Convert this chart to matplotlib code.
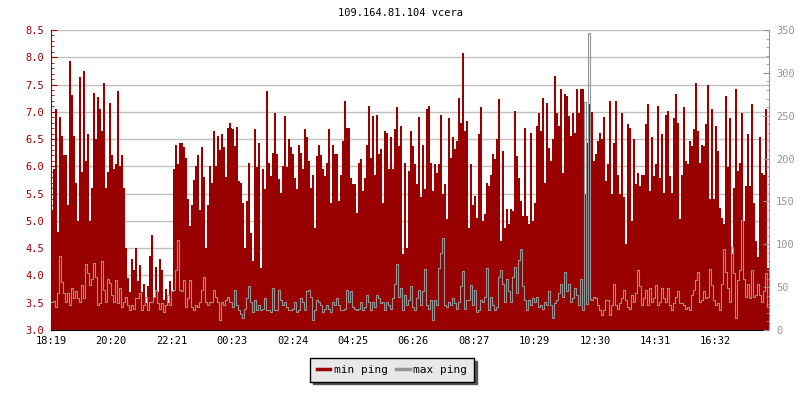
import numpy as np
import matplotlib.pyplot as plt
from matplotlib.ticker import MultipleLocator
from matplotlib.lines import Line2D

# min ping (ms, left axis), one value every 4 minutes starting 18:19
min_ping = [
    5.2, 5.95, 7.05, 4.8, 6.9, 6.55, 6.2, 6.2, 5.3, 7.93,
    7.3, 6.55, 5.7, 5.0, 7.64, 5.9, 7.75, 6.1, 6.6, 5.0,
    5.6, 7.35, 6.5, 7.27, 7.05, 6.65, 7.53, 5.6, 5.9, 7.17,
    6.2, 5.95, 6.05, 7.38, 6.0, 6.2, 5.6, 4.5, 3.95, 3.7,
    4.3, 4.1, 4.5, 3.9, 4.2, 3.7, 3.85, 3.5, 3.8, 4.35,
    4.74, 3.6, 4.15, 3.7, 4.3, 4.1, 3.55, 3.75, 3.5, 3.9,
    3.7, 5.96, 6.4, 6.05, 6.43, 6.43, 6.35, 6.15, 5.4, 4.9,
    5.3, 5.75, 6.0, 6.2, 5.2, 6.35, 5.8, 4.5, 5.3, 6.0,
    5.7, 6.65, 6.0, 6.55, 6.3, 6.6, 6.35, 5.8, 6.7, 6.8,
    6.7, 6.68, 6.37, 6.72, 5.73, 5.7, 5.33, 4.51, 5.36, 6.07,
    4.78, 4.26, 6.69, 5.99, 6.43, 4.14, 5.95, 5.58, 7.38, 6.07,
    5.82, 6.25, 6.98, 6.22, 5.76, 5.52, 6.0, 6.92, 5.98, 6.5,
    6.36, 6.22, 5.79, 5.58, 6.4, 6.25, 5.95, 6.68, 6.53, 6.1,
    5.61, 5.85, 4.87, 6.19, 6.4, 6.21, 5.95, 5.82, 6.07, 6.68,
    5.33, 6.4, 6.22, 6.22, 5.36, 5.85, 6.46, 7.2, 6.71, 6.71,
    5.79, 5.67, 5.67, 5.15, 6.07, 6.13, 5.55, 5.79, 6.4, 7.11,
    6.16, 6.92, 5.85, 6.95, 6.22, 6.31, 5.33, 6.65, 6.62, 5.95,
    6.53, 5.95, 6.68, 7.08, 6.37, 6.74, 4.39, 6.07, 4.51, 5.91,
    6.65, 6.37, 6.04, 5.68, 6.9, 5.43, 6.4, 5.58, 7.06, 7.1,
    6.07, 5.55, 6.04, 5.88, 6.04, 6.95, 5.49, 5.67, 5.03, 6.89,
    6.16, 6.53, 6.31, 6.46, 7.26, 6.8, 8.07, 6.65, 6.83, 4.87,
    6.05, 5.3, 5.46, 5.06, 6.59, 7.08, 5.0, 5.12, 5.7, 5.64,
    5.85, 6.22, 6.13, 6.5, 7.23, 4.63, 6.28, 4.87, 5.21, 4.94,
    5.21, 5.18, 7.01, 6.19, 5.79, 5.36, 5.09, 6.71, 5.09, 4.94,
    6.62, 5.0, 5.33, 6.74, 6.98, 6.65, 7.25, 5.7, 7.17, 6.34,
    6.1, 6.5, 7.66, 6.98, 6.74, 7.42, 5.88, 7.33, 7.29, 6.92,
    6.56, 6.98, 6.62, 7.41, 6.98, 7.41, 7.41, 5.49, 6.43, 7.15,
    6.31, 7.0, 6.1, 6.22, 6.46, 6.62, 6.5, 6.9, 5.73, 6.04,
    7.19, 5.49, 6.43, 7.19, 5.85, 5.49, 6.98, 5.43, 4.57, 6.77,
    6.71, 5.0, 6.5, 5.67, 5.88, 5.64, 5.85, 5.85, 6.77, 7.14,
    5.55, 6.53, 5.82, 6.04, 7.11, 5.79, 6.59, 5.52, 6.95, 7.01,
    5.82, 5.52, 6.89, 7.32, 6.8, 5.03, 5.85, 7.08, 6.1, 6.04,
    6.46, 6.37, 6.68, 7.53, 6.65, 6.07, 6.4, 6.37, 6.77, 7.49,
    5.4, 7.05, 5.4, 6.74, 6.28, 5.24, 5.06, 4.94, 7.29, 5.98,
    6.89, 4.39, 5.61, 7.41, 5.91, 6.07, 6.98, 5.0, 5.64, 6.59,
    5.64, 7.14, 5.33, 4.63, 4.33, 6.53, 5.88, 5.85, 7.05, 4.14,
]

# max ping (ms, right axis), same sampling
max_ping = [
    33, 34, 27, 43, 86, 56, 43, 33, 43, 29,
    49, 37, 45, 37, 33, 53, 37, 77, 66, 53,
    60, 78, 62, 29, 31, 80, 47, 33, 60, 55,
    41, 33, 58, 31, 49, 27, 33, 39, 29, 23,
    29, 25, 37, 37, 43, 23, 29, 39, 23, 33,
    33, 39, 47, 31, 25, 31, 21, 29, 41, 29,
    45, 47, 70, 105, 47, 45, 58, 27, 37, 58,
    27, 23, 29, 27, 33, 47, 62, 33, 29, 33,
    33, 47, 39, 33, 12, 33, 29, 35, 39, 33,
    33, 27, 47, 29, 23, 19, 14, 25, 37, 51,
    33, 21, 35, 23, 29, 23, 25, 37, 23, 23,
    21, 49, 23, 23, 47, 35, 29, 33, 27, 23,
    23, 25, 33, 21, 23, 37, 33, 23, 45, 47,
    39, 12, 23, 35, 33, 29, 21, 25, 29, 25,
    21, 33, 29, 37, 29, 23, 23, 25, 47, 33,
    45, 27, 25, 23, 25, 33, 23, 27, 41, 33,
    23, 33, 27, 41, 37, 31, 33, 23, 33, 29,
    25, 37, 54, 77, 39, 49, 23, 41, 29, 35,
    51, 27, 23, 37, 47, 29, 45, 71, 29, 25,
    35, 12, 35, 29, 72, 90, 107, 29, 27, 33,
    29, 37, 31, 25, 33, 51, 69, 25, 35, 35,
    53, 29, 47, 21, 23, 35, 33, 39, 72, 23,
    39, 29, 23, 27, 62, 70, 54, 33, 60, 45,
    33, 62, 74, 43, 82, 95, 51, 35, 23, 35,
    29, 37, 33, 39, 27, 29, 25, 33, 29, 45,
    29, 14, 31, 35, 43, 54, 39, 68, 45, 54,
    33, 37, 49, 41, 29, 60, 23, 266, 30, 346,
    36, 35, 39, 37, 29, 23, 17, 23, 35, 35,
    17, 29, 54, 29, 25, 31, 37, 47, 35, 27,
    25, 41, 33, 43, 70, 51, 29, 37, 47, 29,
    49, 33, 37, 53, 29, 33, 49, 37, 33, 49,
    29, 23, 31, 39, 45, 31, 31, 29, 25, 27,
    23, 41, 47, 58, 68, 33, 35, 45, 37, 39,
    71, 53, 35, 29, 31, 23, 54, 95, 68, 49,
    33, 97, 66, 14, 58, 70, 128, 60, 39, 54,
    37, 70, 39, 41, 54, 41, 33, 45, 66, 27,
]

tick_labels = ['18:19', '20:20', '22:21', '00:23', '02:24', '04:25',
               '06:26', '08:27', '10:29', '12:30', '14:31', '16:32']

step_min = 4
total_min = 24 * 60
red = '#990000'
grey = '#959595'

plt.rcParams['font.family'] = 'DejaVu Sans Mono'
plt.rcParams['font.size'] = 7.5

edges = np.append(np.arange(len(min_ping)) * step_min, total_min)

# tick positions: minutes after the first label
h0, m0 = map(int, tick_labels[0].split(':'))
tick_pos = []
for lab in tick_labels:
    h, m = map(int, lab.split(':'))
    tick_pos.append(((h * 60 + m) - (h0 * 60 + m0)) % total_min)

fig = plt.figure(figsize=(8, 4), dpi=100)
ax = fig.add_axes([51 / 800, 70 / 400, 718 / 800, 300 / 400])

ax.stairs(min_ping, edges, baseline=3.0, fill=True, color=red, lw=0,
          antialiased=False)
ax.set_xlim(0, total_min)
ax.set_ylim(3.0, 8.5)
ax.yaxis.set_major_locator(MultipleLocator(0.5))
ax.yaxis.set_minor_locator(MultipleLocator(0.1))
ax.yaxis.set_major_formatter('{x:.1f}')
ax.grid(axis='y', color='#c0c0c0', lw=1)
ax.set_axisbelow(True)
ax.tick_params(axis='y', which='major', direction='in', colors=red, length=4, pad=5)
ax.tick_params(axis='y', which='minor', direction='in', colors=red, length=2)
ax.set_xticks(tick_pos)
ax.set_xticklabels(tick_labels)
ax.tick_params(axis='x', direction='in', length=5, pad=4, colors='black')
ax.spines['left'].set_color(red)
ax.spines['top'].set_visible(False)
ax.spines['right'].set_visible(False)

ax2 = ax.twinx()
ax2.plot(edges, np.append(max_ping, max_ping[-1]), drawstyle='steps-post',
         color=grey, lw=0.8)
ax2.set_ylim(0, 350)
ax2.yaxis.set_major_locator(MultipleLocator(50))
ax2.yaxis.set_minor_locator(MultipleLocator(10))
ax2.tick_params(axis='y', which='major', direction='in', colors=grey, length=4, pad=5)
ax2.tick_params(axis='y', which='minor', direction='in', colors=grey, length=2)
ax2.spines['right'].set_color(grey)
for s in ['left', 'top', 'bottom']:
    ax2.spines[s].set_visible(False)

fig.text(0.5, 1 - 13 / 400, '109.164.81.104 vcera', ha='center', va='center')

handles = [Line2D([], [], color=red, lw=2.5), Line2D([], [], color=grey, lw=2.5)]
leg = fig.legend(handles, ['min ping', 'max ping'], loc='center',
                 bbox_to_anchor=(392 / 800, 1 - 370 / 400), ncol=2,
                 fancybox=False, shadow={'color': '#555555', 'alpha': 1},
                 edgecolor='black', facecolor='#e8e8e8', framealpha=1,
                 handlelength=1.2, handletextpad=0.3, columnspacing=0.8,
                 borderpad=0.6, borderaxespad=0, fontsize=8)
leg.get_frame().set_linewidth(1)

fig.savefig('out.png', dpi=100)
